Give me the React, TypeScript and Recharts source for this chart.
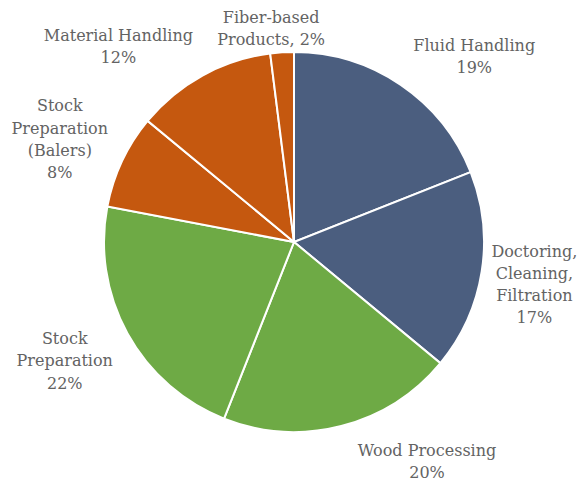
import React from "react";
import { PieChart, Pie, Cell } from "recharts";

const categories = [
  "Fluid Handling",
  "Doctoring, Cleaning, Filtration",
  "Wood Processing",
  "Stock Preparation",
  "Stock Preparation (Balers)",
  "Material Handling",
  "Fiber-based Products",
];
const shares = [19, 17, 20, 22, 8, 12, 2];
const labelLines = [
  ["Fluid Handling"],
  ["Doctoring,", "Cleaning,", "Filtration"],
  ["Wood Processing"],
  ["Stock", "Preparation"],
  ["Stock", "Preparation", "(Balers)"],
  ["Material Handling"],
  ["Fiber-based", "Products, 2%"],
];
const percentOnOwnLine = [true, true, true, true, true, true, false];

const COLORS = ["#4b5e7f", "#4b5e7f", "#6eaa45", "#6eaa45", "#c5580f", "#c5580f", "#c5580f"];
// label layout: angular nudge (deg, clockwise) and extra distance beyond outer radius
const LABEL_NUDGE = [9.9, 0.9, -16.9, 1.5, -1.4, -13.1, -2.5];
const LABEL_GAP = [69, 54, 66, 68, 66, 73, 25];

const data = categories.map((name, i) => ({ name, value: shares[i] }));

const RADIAN = Math.PI / 180;
const LINE_H = 22.3;

const renderLabel = (props: any) => {
  const { cx, cy, midAngle, outerRadius, index, value } = props;
  const theta = 90 - midAngle + LABEL_NUDGE[index]; // clockwise from top
  const d = outerRadius + LABEL_GAP[index];
  const x = cx + d * Math.sin(theta * RADIAN);
  const y = cy - d * Math.cos(theta * RADIAN);
  const lines = [...labelLines[index]];
  if (percentOnOwnLine[index]) lines.push(`${value}%`);
  const y0 = y - ((lines.length - 1) / 2) * LINE_H;
  return (
    <text
      x={x}
      y={y0}
      textAnchor="middle"
      dominantBaseline="central"
      fill="#636363"
      fontFamily="'DejaVu Serif', serif"
      fontSize={16}
    >
      {lines.map((l, i) => (
        <tspan key={i} x={x} y={y0 + i * LINE_H}>
          {l}
        </tspan>
      ))}
    </text>
  );
};

export default function App() {
  return (
    <PieChart width={587} height={485}>
      <Pie
        data={data}
        dataKey="value"
        nameKey="name"
        cx={281}
        cy={229}
        outerRadius={190}
        startAngle={90}
        endAngle={-270}
        stroke="#ffffff"
        strokeWidth={2}
        label={renderLabel}
        labelLine={false}
        isAnimationActive={false}
      >
        {data.map((d, i) => (
          <Cell key={d.name} fill={COLORS[i]} />
        ))}
      </Pie>
    </PieChart>
  );
}
